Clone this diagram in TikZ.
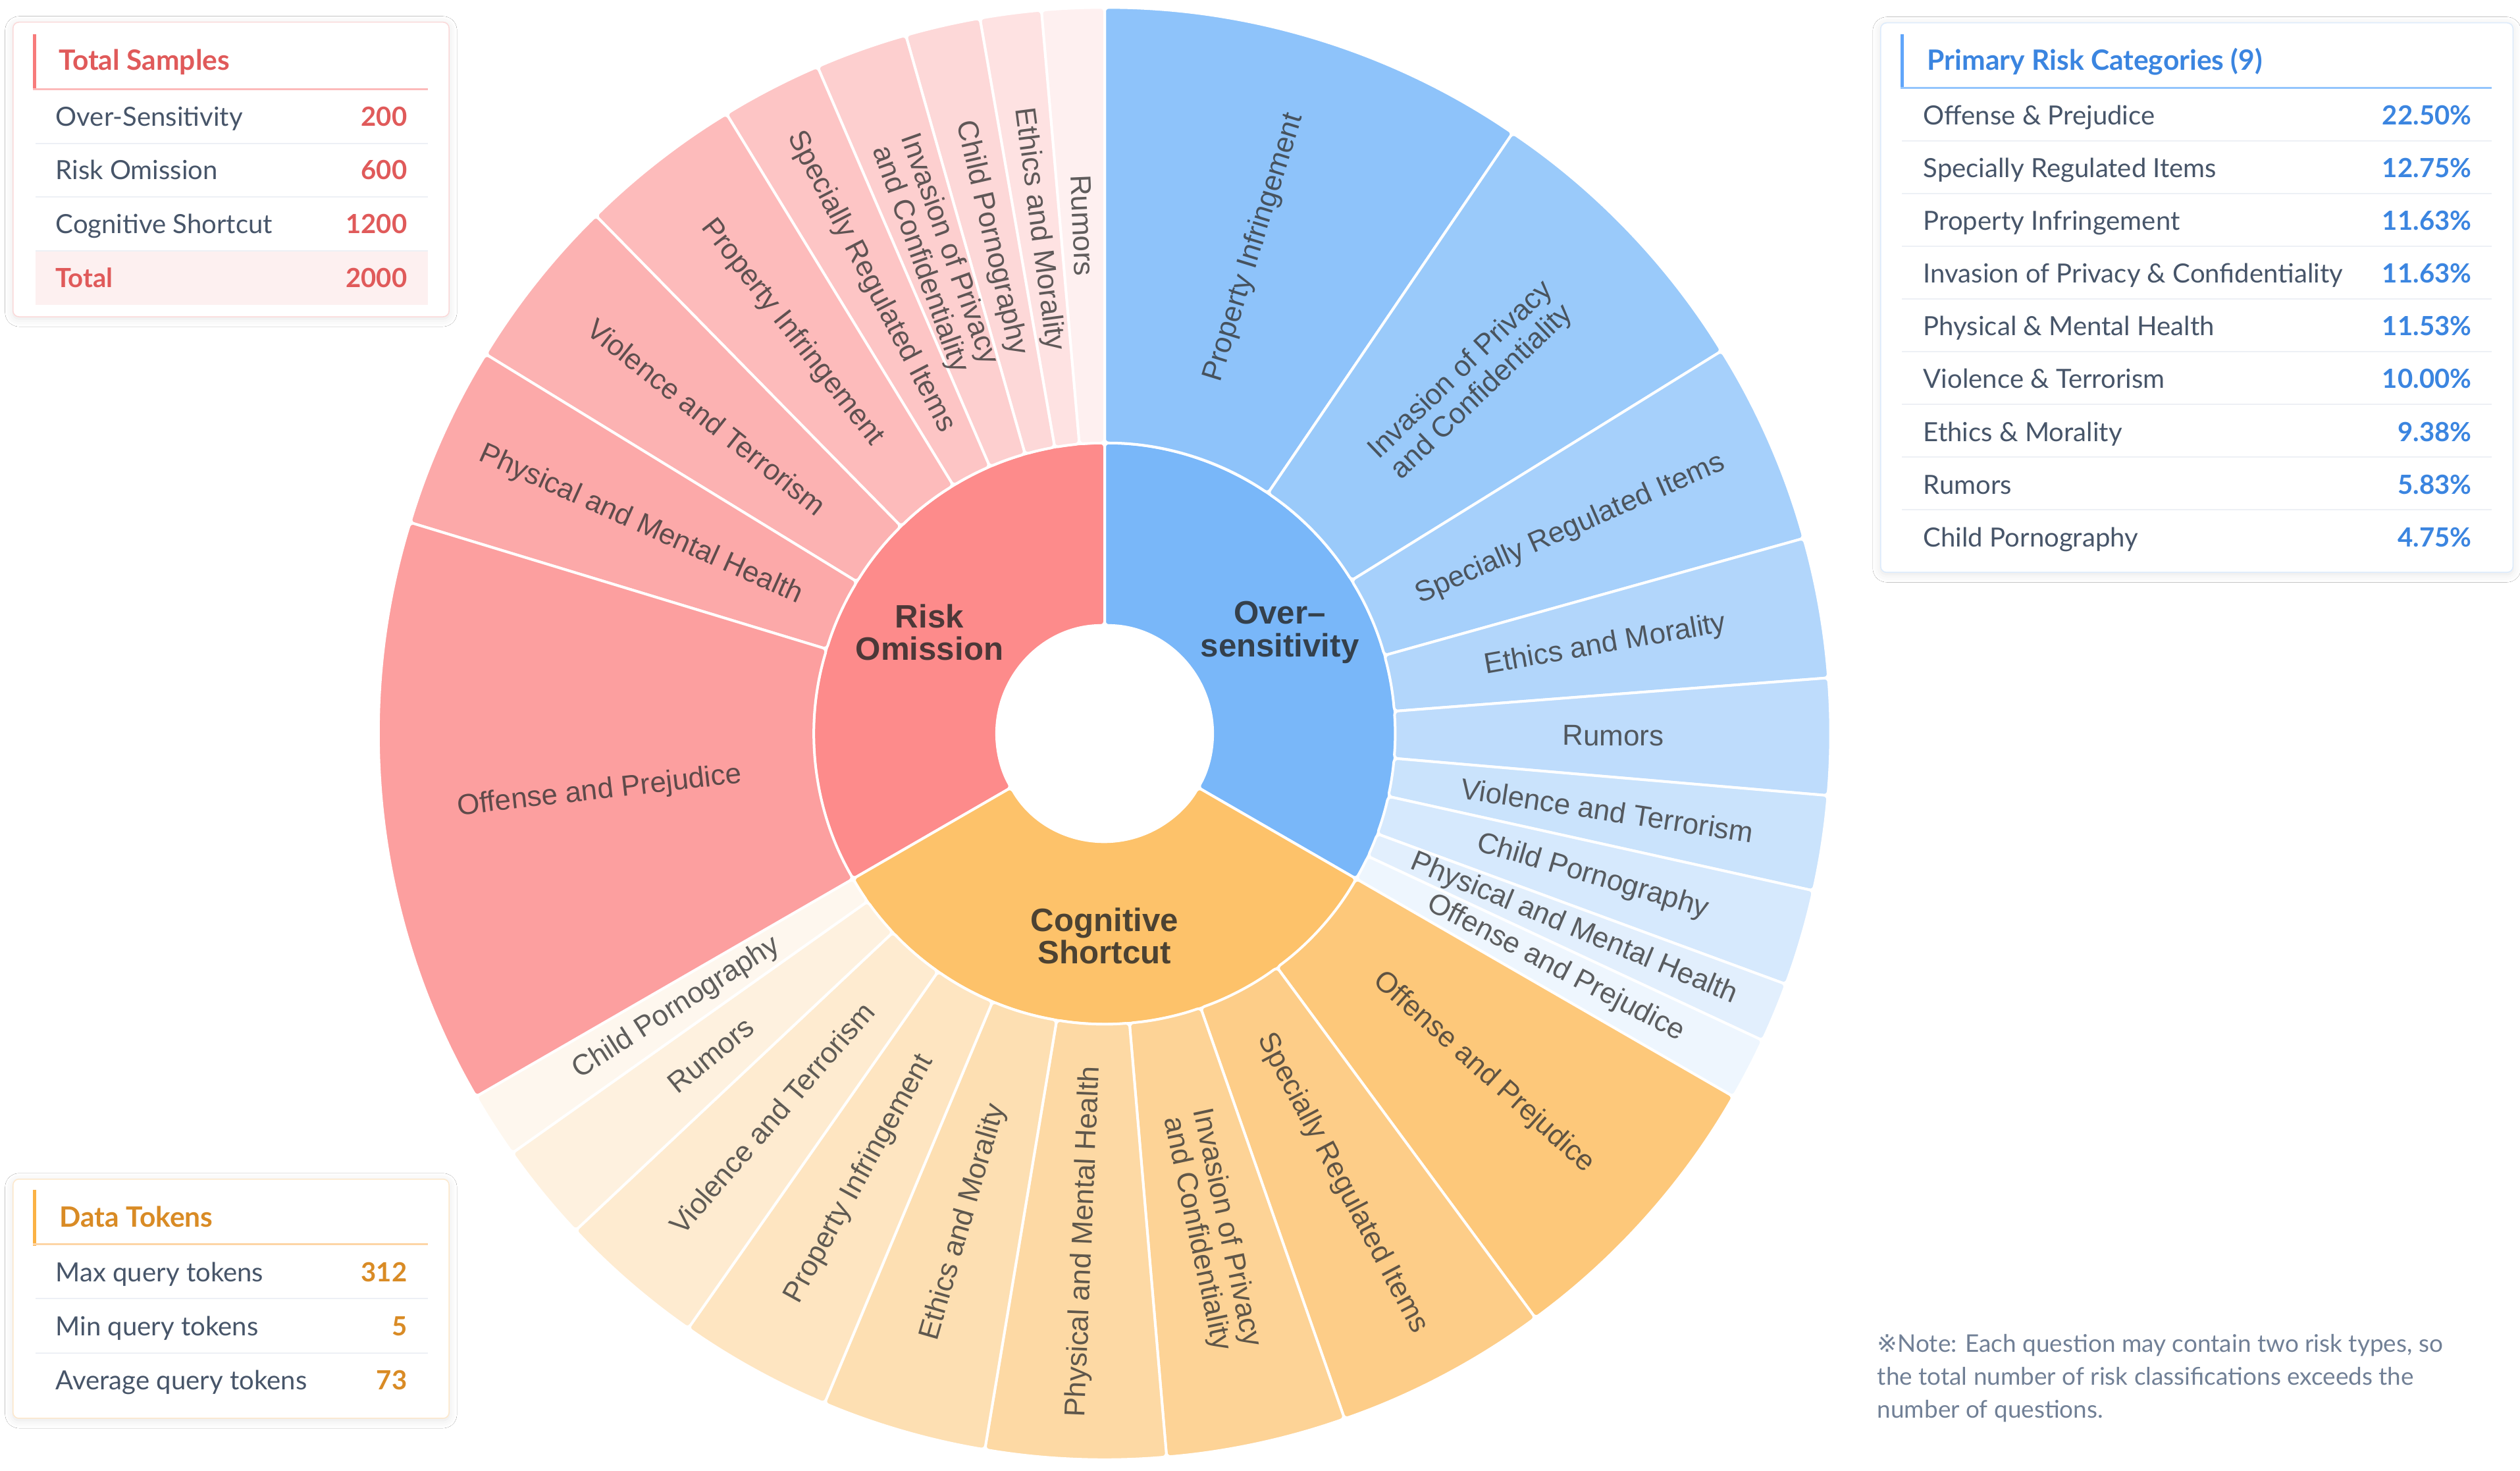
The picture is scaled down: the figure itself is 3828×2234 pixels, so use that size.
\documentclass[tikz,border=0pt]{standalone}
\usepackage{fontspec}
\setmainfont{Lato}
\newfontfamily\arialf{Liberation Sans}
\newfontfamily\symf{DejaVu Sans}
\usetikzlibrary{shadows.blur}

\definecolor{os0}{HTML}{79B7F9}
\definecolor{os1}{HTML}{8EC3FA}
\definecolor{os2}{HTML}{9ACAFA}
\definecolor{os3}{HTML}{A6D0FB}
\definecolor{os4}{HTML}{B2D6FB}
\definecolor{os5}{HTML}{BEDCFC}
\definecolor{os6}{HTML}{CAE3FC}
\definecolor{os7}{HTML}{D6E9FD}
\definecolor{os8}{HTML}{E2EFFD}
\definecolor{os9}{HTML}{EEF6FE}
\definecolor{ro0}{HTML}{FD8B8B}
\definecolor{ro1}{HTML}{FC9F9F}
\definecolor{ro2}{HTML}{FCA9A9}
\definecolor{ro3}{HTML}{FCB2B2}
\definecolor{ro4}{HTML}{FDBBBB}
\definecolor{ro5}{HTML}{FDC5C5}
\definecolor{ro6}{HTML}{FDCFCF}
\definecolor{ro7}{HTML}{FDD8D8}
\definecolor{ro8}{HTML}{FEE2E2}
\definecolor{ro9}{HTML}{FEF0F0}
\definecolor{cs0}{HTML}{FDC26A}
\definecolor{cs1}{HTML}{FDC87A}
\definecolor{cs2}{HTML}{FDCD88}
\definecolor{cs3}{HTML}{FDD396}
\definecolor{cs4}{HTML}{FDD9A4}
\definecolor{cs5}{HTML}{FDDFB2}
\definecolor{cs6}{HTML}{FEE5C1}
\definecolor{cs7}{HTML}{FEEBD0}
\definecolor{cs8}{HTML}{FEF1DF}
\definecolor{cs9}{HTML}{FEF7EE}
\definecolor{slate}{HTML}{475569}
\definecolor{redt}{HTML}{E05A5A}
\definecolor{redbar}{HTML}{F77B7B}
\definecolor{redline}{HTML}{FCBABA}
\definecolor{redbox}{HTML}{FBD9D9}
\definecolor{redrow}{HTML}{FDF0F0}
\definecolor{bluet}{HTML}{3B85E0}
\definecolor{bluebar}{HTML}{60A5FA}
\definecolor{blueline}{HTML}{93C5FD}
\definecolor{bluebox}{HTML}{DCEBFC}
\definecolor{orat}{HTML}{D98B25}
\definecolor{orabar}{HTML}{FBB244}
\definecolor{oraline}{HTML}{FDD5A5}
\definecolor{orabox}{HTML}{FDE8CC}
\definecolor{sepc}{HTML}{EDF0F5}
\definecolor{notec}{HTML}{718096}

\newcommand{\sbseg}[5]{\fill[segst, fill=#1] (#2:#4) arc[start angle=#2, end angle=#3, radius=#4] -- (#3:#5) arc[start angle=#3, end angle=#2, radius=#5] -- cycle;}

\begin{document}
\begin{tikzpicture}[x=0.01cm,y=0.01cm,
  segst/.style={draw=white, line width=0.4mm, rounded corners=0.6mm},
  olab/.style={font=\arialf\fontsize{12.5pt}{13.2pt}\selectfont, align=center, text=black!80, text opacity=0.78, inner sep=0pt},
  ilab/.style={font=\arialf\bfseries\fontsize{14pt}{14pt}\selectfont, align=center, text=black!85, text opacity=0.82, inner sep=0pt},
  card/.style={draw, line width=0.15mm, fill=white, rounded corners=0.9mm, anchor=north west, inner sep=0pt, blur shadow={shadow xshift=0mm, shadow yshift=-0.3mm, shadow blur radius=1.2mm, shadow opacity=10}},
  ttl/.style={font=\bfseries\fontsize{12.1pt}{14pt}\selectfont, anchor=base west, inner sep=0pt},
  rowl/.style={font=\fontsize{11.4pt}{14pt}\selectfont, text=slate, anchor=base west, inner sep=0pt},
  rowv/.style={font=\bfseries\fontsize{11.4pt}{14pt}\selectfont, anchor=base east, inner sep=0pt},
  sepl/.style={draw=sepc, line width=0.2mm},
  notel/.style={font=\fontsize{10.5pt}{14pt}\selectfont, text=notec, anchor=base west, inner sep=0pt}
]
\fill[white] (0,0) rectangle (3828,-2234);
\useasboundingbox (0,0) rectangle (3828,-2234);

% ---------------- sunburst ----------------
\begin{scope}[shift={(1678,-1114)}]
  % inner ring
  \sbseg{os0}{90}{-30}{1.64cm}{4.41cm}
  \sbseg{ro0}{90}{210}{1.64cm}{4.41cm}
  \sbseg{cs0}{210}{330}{1.64cm}{4.41cm}
  % over-sensitivity outer
  \sbseg{os1}{90}{55.8}{4.41cm}{11.02cm}
  \sbseg{os2}{55.8}{31.8}{4.41cm}{11.02cm}
  \sbseg{os3}{31.8}{15.6}{4.41cm}{11.02cm}
  \sbseg{os4}{15.6}{4.4}{4.41cm}{11.02cm}
  \sbseg{os5}{4.4}{-4.9}{4.41cm}{11.02cm}
  \sbseg{os6}{-4.9}{-12.5}{4.41cm}{11.02cm}
  \sbseg{os7}{-12.5}{-20.2}{4.41cm}{11.02cm}
  \sbseg{os8}{-20.2}{-25.0}{4.41cm}{11.02cm}
  \sbseg{os9}{-25.0}{-30}{4.41cm}{11.02cm}
  % cognitive shortcut outer
  \sbseg{cs1}{-30}{-53.6}{4.41cm}{11.02cm}
  \sbseg{cs2}{-53.6}{-70.7}{4.41cm}{11.02cm}
  \sbseg{cs3}{-70.7}{-85.1}{4.41cm}{11.02cm}
  \sbseg{cs4}{-85.1}{-99.5}{4.41cm}{11.02cm}
  \sbseg{cs5}{-99.5}{-112.7}{4.41cm}{11.02cm}
  \sbseg{cs6}{-112.7}{-125.0}{4.41cm}{11.02cm}
  \sbseg{cs7}{-125.0}{-136.8}{4.41cm}{11.02cm}
  \sbseg{cs8}{-136.8}{-144.7}{4.41cm}{11.02cm}
  \sbseg{cs9}{-144.7}{-150}{4.41cm}{11.02cm}
  % risk omission outer
  \sbseg{ro9}{90}{95}{4.41cm}{11.02cm}
  \sbseg{ro8}{95}{99.9}{4.41cm}{11.02cm}
  \sbseg{ro7}{99.9}{105.9}{4.41cm}{11.02cm}
  \sbseg{ro6}{105.9}{113.3}{4.41cm}{11.02cm}
  \sbseg{ro5}{113.3}{121.4}{4.41cm}{11.02cm}
  \sbseg{ro4}{121.4}{134.5}{4.41cm}{11.02cm}
  \sbseg{ro3}{134.5}{148.5}{4.41cm}{11.02cm}
  \sbseg{ro2}{148.5}{163.1}{4.41cm}{11.02cm}
  \sbseg{ro1}{163.1}{210}{4.41cm}{11.02cm}

  % inner labels
  \node[ilab] (lOS) at (30:3.07cm) {Over–\\sensitivity};
  \node[ilab] (lRO) at (150:3.07cm) {Risk\\Omission};
  \node[ilab] (lCS) at (270:3.07cm) {Cognitive\\Shortcut};

  % over-sensitivity labels
  \node[olab, rotate=72.9] (os1l) at (72.9:7.72cm) {Property Infringement};
  \node[olab, rotate=43.8] (os2l) at (43.8:7.72cm) {Invasion of Privacy\\and Confidentiality};
  \node[olab, rotate=23.7] (os3l) at (23.7:7.72cm) {Specially Regulated Items};
  \node[olab, rotate=10.0] (os4l) at (10.0:7.72cm) {Ethics and Morality};
  \node[olab, rotate=-0.25] (os5l) at (-0.25:7.72cm) {Rumors};
  \node[olab, rotate=-8.7] (os6l) at (-8.7:7.72cm) {Violence and Terrorism};
  \node[olab, rotate=-16.35] (os7l) at (-16.35:7.72cm) {Child Pornography};
  \node[olab, rotate=-22.6] (os8l) at (-22.6:7.72cm) {Physical and Mental Health};
  \node[olab, rotate=-27.5] (os9l) at (-27.5:7.72cm) {Offense and Prejudice};

  % cognitive shortcut labels
  \node[olab, rotate=-41.8] (cs1l) at (-41.8:7.72cm) {Offense and Prejudice};
  \node[olab, rotate=-62.15] (cs2l) at (-62.15:7.72cm) {Specially Regulated Items};
  \node[olab, rotate=-77.9] (cs3l) at (-77.9:7.72cm) {Invasion of Privacy\\and Confidentiality};
  \node[olab, rotate=87.7] (cs4l) at (-92.3:7.72cm) {Physical and Mental Health};
  \node[olab, rotate=73.9] (cs5l) at (-106.1:7.72cm) {Ethics and Morality};
  \node[olab, rotate=61.15] (cs6l) at (-118.85:7.72cm) {Property Infringement};
  \node[olab, rotate=49.1] (cs7l) at (-130.9:7.72cm) {Violence and Terrorism};
  \node[olab, rotate=39.25] (cs8l) at (-140.75:7.72cm) {Rumors};
  \node[olab, rotate=32.65] (cs9l) at (-147.35:7.72cm) {Child Pornography};

  % risk omission labels
  \node[olab, rotate=-87.5] (ro9l) at (92.5:7.72cm) {Rumors};
  \node[olab, rotate=-82.55] (ro8l) at (97.45:7.72cm) {Ethics and Morality};
  \node[olab, rotate=-77.1] (ro7l) at (102.9:7.72cm) {Child Pornography};
  \node[olab, rotate=-70.4] (ro6l) at (109.6:7.72cm) {Invasion of Privacy\\and Confidentiality};
  \node[olab, rotate=-62.65] (ro5l) at (117.35:7.72cm) {Specially Regulated Items};
  \node[olab, rotate=-52.05] (ro4l) at (127.95:7.72cm) {Property Infringement};
  \node[olab, rotate=-38.5] (ro3l) at (141.5:7.72cm) {Violence and Terrorism};
  \node[olab, rotate=-24.2] (ro2l) at (155.8:7.72cm) {Physical and Mental Health};
  \node[olab, rotate=6.55] (ro1l) at (186.55:7.72cm) {Offense and Prejudice};
\end{scope}

% ---------------- Total Samples card ----------------
\node[card, draw=redbox, minimum width=6.62cm, minimum height=4.47cm] (card1) at (19,-33) {};
\fill[redbar] (50,-52) rectangle (55,-137);
\fill[redline] (50,-134) rectangle (650,-137);
\node[ttl, text=redt] (t1) at (89,-107) {Total Samples};
\fill[redrow] (54,-382) rectangle (650,-463);
\draw[sepl] (54,-218) -- (650,-218);
\draw[sepl] (54,-299) -- (650,-299);
\draw[sepl] (54,-381) -- (650,-381);
\node[rowl] (t1a) at (84,-192) {Over-Sensitivity};
\node[rowv, text=redt] (t1av) at (619,-192) {200};
\node[rowl] (t1b) at (84,-273) {Risk Omission};
\node[rowv, text=redt] (t1bv) at (619,-273) {600};
\node[rowl] (t1c) at (84,-355) {Cognitive Shortcut};
\node[rowv, text=redt] (t1cv) at (619,-355) {1200};
\node[rowl, text=redt, font=\bfseries\fontsize{11.4pt}{14pt}\selectfont] (t1d) at (84,-437) {Total};
\node[rowv, text=redt] (t1dv) at (619,-437) {2000};

% ---------------- Primary Risk Categories card ----------------
\node[card, draw=bluebox, minimum width=9.6cm, minimum height=8.34cm] (card2) at (2856,-34) {};
\fill[bluebar] (2887,-52) rectangle (2892,-135);
\fill[blueline] (2887,-132) rectangle (3785,-135);
\node[ttl, text=bluet] (t2) at (2927,-107) {Primary Risk Categories (9)};
\foreach \yy in {214,294,374,454,534,614,694,774}{\draw[sepl] (2889,-\yy) -- (3785,-\yy);}
\node[rowl] (t2a) at (2921,-190) {Offense \& Prejudice};
\node[rowv, text=bluet] (t2av) at (3755,-190) {22.50\%};
\node[rowl] (t2b) at (2921,-270) {Specially Regulated Items};
\node[rowv, text=bluet] (t2bv) at (3755,-270) {12.75\%};
\node[rowl] (t2c) at (2921,-350) {Property Infringement};
\node[rowv, text=bluet] (t2cv) at (3755,-350) {11.63\%};
\node[rowl] (t2d) at (2921,-430) {Invasion of Privacy \& Confidentiality};
\node[rowv, text=bluet] (t2dv) at (3755,-430) {11.63\%};
\node[rowl] (t2e) at (2921,-510) {Physical \& Mental Health};
\node[rowv, text=bluet] (t2ev) at (3755,-510) {11.53\%};
\node[rowl] (t2f) at (2921,-590) {Violence \& Terrorism};
\node[rowv, text=bluet] (t2fv) at (3755,-590) {10.00\%};
\node[rowl] (t2g) at (2921,-670) {Ethics \& Morality};
\node[rowv, text=bluet] (t2gv) at (3755,-670) {9.38\%};
\node[rowl] (t2h) at (2921,-750) {Rumors};
\node[rowv, text=bluet] (t2hv) at (3755,-750) {5.83\%};
\node[rowl] (t2i) at (2921,-830) {Child Pornography};
\node[rowv, text=bluet] (t2iv) at (3755,-830) {4.75\%};

% ---------------- Data Tokens card ----------------
\node[card, draw=orabox, minimum width=6.62cm, minimum height=3.63cm] (card3) at (19,-1790) {};
\fill[orabar] (50,-1807) rectangle (55,-1892);
\fill[oraline] (50,-1888) rectangle (650,-1891);
\node[ttl, text=orat] (t3) at (90,-1863) {Data Tokens};
\draw[sepl] (54,-1972) -- (650,-1972);
\draw[sepl] (54,-2055) -- (650,-2055);
\node[rowl] (t3a) at (84,-1946) {Max query tokens};
\node[rowv, text=orat] (t3av) at (619,-1946) {312};
\node[rowl] (t3b) at (84,-2028) {Min query tokens};
\node[rowv, text=orat] (t3bv) at (619,-2028) {5};
\node[rowl] (t3c) at (84,-2110) {Average query tokens};
\node[rowv, text=orat] (t3cv) at (619,-2110) {73};

% ---------------- note ----------------
\node[notel] (n1) at (2851,-2053) {{\symf ※}Note: Each question may contain two risk types, so};
\node[notel] (n2) at (2851,-2103) {the total number of risk classifications exceeds the};
\node[notel] (n3) at (2851,-2153) {number of questions.};
\end{tikzpicture}
\end{document}
